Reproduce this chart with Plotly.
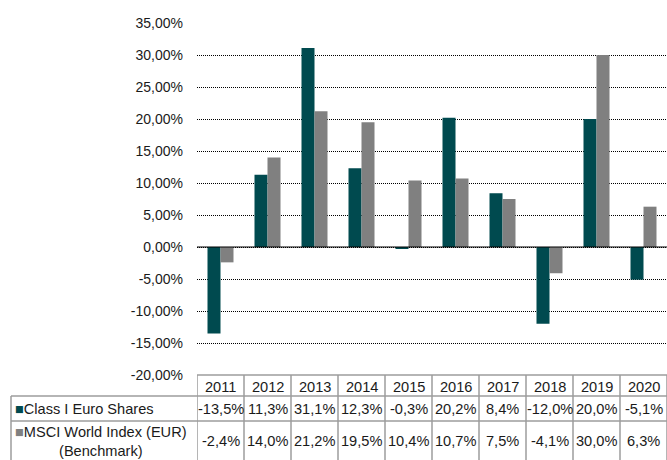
import plotly.graph_objects as go

years = ["2011", "2012", "2013", "2014", "2015", "2016", "2017", "2018", "2019", "2020"]
class_i = [-13.5, 11.3, 31.1, 12.3, -0.3, 20.2, 8.4, -12.0, 20.0, -5.1]
msci = [-2.4, 14.0, 21.2, 19.5, 10.4, 10.7, 7.5, -4.1, 30.0, 6.3]
series_names = ["Class I Euro Shares", "MSCI World Index (EUR)<br>(Benchmark)"]
y_ticks = [-20, -15, -10, -5, 0, 5, 10, 15, 20, 25, 30, 35]

DARK = "#004a4f"
GRAY = "#808080"
LINE = "#9c9c9c"
TXT = "#1a1a1a"
FONT = "Liberation Sans, Arial, sans-serif"
TFS = 14.6


def fmt_pct(v, d):
    return (f"{v:.{d}f}").replace(".", ",") + "%"


xs = list(range(len(years)))

fig = go.Figure()
fig.add_trace(go.Bar(x=xs, y=class_i, name=series_names[0], marker=dict(color=DARK, line=dict(width=0))))
fig.add_trace(go.Bar(x=xs, y=msci, name=series_names[1], marker=dict(color=GRAY, line=dict(width=0))))

# plot area px: x 197..667, y 23..375 (352 px tall)
PH = 352.0
def py(pix):
    return (375 - pix) / PH

x_left = (11 - 197) / 470.0

shapes = []
shapes.append(dict(type="line", xref="paper", yref="y", x0=0, x1=1, y0=0, y1=0,
                   line=dict(color="#000000", width=1.2), layer="above"))
shapes.append(dict(type="line", xref="paper", yref="paper", x0=0, x1=1, y0=0, y1=0,
                   line=dict(color=LINE, width=1.5)))
for yy in (396, 421):
    shapes.append(dict(type="line", xref="paper", yref="paper", x0=x_left, x1=1, y0=py(yy), y1=py(yy),
                       line=dict(color=LINE, width=1.5)))
shapes.append(dict(type="line", xref="paper", yref="paper", x0=x_left, x1=x_left, y0=py(396), y1=py(462),
                   line=dict(color=LINE, width=1.5)))
for k in range(len(years) + 1):
    shapes.append(dict(type="line", xref="x", yref="paper", x0=k - 0.5, x1=k - 0.5, y0=0, y1=py(462),
                       line=dict(color=LINE, width=1.5)))

annotations = []
for i, yr in enumerate(years):
    annotations.append(dict(x=i, y=py(386.5), xref="x", yref="paper", text=yr, showarrow=False,
                            font=dict(size=TFS, color=TXT, family=FONT), xanchor="center", yanchor="middle"))
    annotations.append(dict(x=i, y=py(409), xref="x", yref="paper", text=fmt_pct(class_i[i], 1), showarrow=False,
                            font=dict(size=TFS, color=TXT, family=FONT), xanchor="center", yanchor="middle"))
    annotations.append(dict(x=i, y=py(441), xref="x", yref="paper", text=fmt_pct(msci[i], 1), showarrow=False,
                            font=dict(size=TFS, color=TXT, family=FONT), xanchor="center", yanchor="middle"))

annotations.append(dict(x=(13 - 197) / 470.0, y=py(409), xref="paper", yref="paper",
                        text=f"<span style='color:{DARK}'>■</span>{series_names[0]}", showarrow=False,
                        font=dict(size=TFS, color=TXT, family=FONT), xanchor="left", yanchor="middle", align="left"))
annotations.append(dict(x=(13 - 197) / 470.0, y=py(441), xref="paper", yref="paper",
                        text=f"<span style='color:{GRAY}'>■</span>{series_names[1]}", showarrow=False,
                        font=dict(size=TFS, color=TXT, family=FONT), xanchor="left", yanchor="middle", align="center"))

fig.update_layout(
    width=667, height=460,
    margin=dict(l=197, r=0, t=23, b=85, pad=0),
    paper_bgcolor="white", plot_bgcolor="white",
    barmode="group", bargap=0.447, bargroupgap=0,
    showlegend=False,
    font=dict(family=FONT, size=14, color=TXT),
    shapes=shapes, annotations=annotations,
    xaxis=dict(range=[-0.5, 9.5], showticklabels=False, showgrid=False, zeroline=False,
               showline=False, ticks="", fixedrange=True),
    yaxis=dict(range=[-20, 35], tickvals=y_ticks, ticktext=[fmt_pct(v, 2) for v in y_ticks],
               showgrid=True, gridcolor="#000000", gridwidth=1, griddash="1px,1px",
               zeroline=False, showline=False, ticks="", ticklabelstandoff=13,
               tickfont=dict(size=14, color=TXT, family=FONT)),
)

fig.write_html("out.html")
